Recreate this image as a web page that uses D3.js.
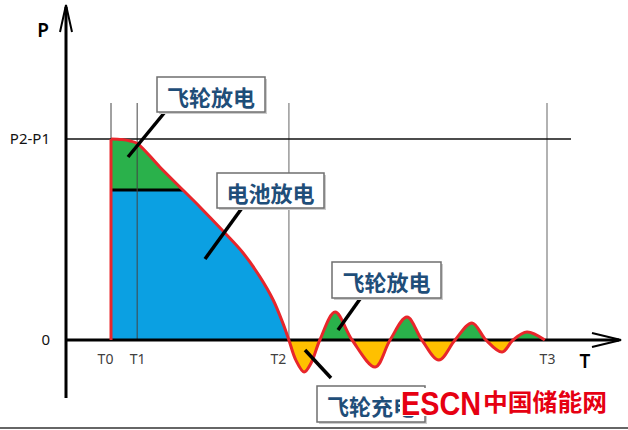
<!DOCTYPE html>
<html lang="zh">
<head>
<meta charset="UTF-8">
<title>飞轮与电池放电</title>
<script src="https://d3js.org/d3.v7.min.js"></script>
<style>
  body { margin: 0; background: #fff; }
  svg { display: block; }
</style>
</head>
<body>
<script>
// marks on the T axis
var tickTimes = [0, 0.6, 4.08, 10];
var tickNames = ["T0", "T1", "T2", "T3"];
// marks on the P axis
var powerLevels = [0, 1];
var powerNames = ["0", "P2-P1"];
// battery output level (black bar) and where it meets the curve
var batteryLevel = 0.746;
var batteryEnd = 1.65;
// the red power curve: time, power
var curveT = [0, 0.25, 0.44, 0.6, 1.12, 1.65, 2.04, 2.57, 3.03, 3.42, 3.72, 3.94, 4.08,
              4.24, 4.43, 4.59, 4.79, 5.14, 5.53, 6.06, 6.4, 6.79, 7.13,
              7.52, 7.89, 8.28, 8.6, 8.97, 9.22, 9.54, 9.95];
var curveP = [1, 0.997, 0.99, 0.978, 0.861, 0.746, 0.662, 0.542, 0.433, 0.313, 0.199, 0.085, 0,
              -0.1, -0.159, -0.114, 0, 0.139, 0, -0.134, 0, 0.114, 0,
              -0.1, 0, 0.085, 0, -0.06, 0, 0.04, 0];
// callout texts
var calloutText = ["飞轮放电", "电池放电", "飞轮放电", "飞轮充电"];

var w = 628, h = 430;
var ox = 66;            // y axis position
var axisTop = 5, axisBottom = 398, arrowX = 621;
var guideTop = 103;

var xScale = d3.scaleLinear().domain([0, 10]).range([111, 547]);
var yScale = d3.scaleLinear().domain([0, 1]).range([340, 139]);

var points = curveT.map(function (t, i) { return [t, curveP[i]]; });

var svg = d3.select("body").append("svg")
    .attr("width", w)
    .attr("height", h);

var defs = svg.append("defs");
defs.append("clipPath").attr("id", "clipUp").append("rect")
    .attr("x", 0).attr("y", 0).attr("width", w).attr("height", yScale(0));
defs.append("clipPath").attr("id", "clipDown").append("rect")
    .attr("x", 0).attr("y", yScale(0)).attr("width", w).attr("height", h);
defs.append("clipPath").attr("id", "clipBlue").append("rect")
    .attr("x", xScale(0) - 2)
    .attr("y", yScale(batteryLevel))
    .attr("width", xScale(tickTimes[2]) - xScale(0) + 2)
    .attr("height", yScale(0) - yScale(batteryLevel));

var smooth = d3.curveCatmullRom.alpha(0.5);

var area = d3.area()
    .x(function (d) { return xScale(d[0]); })
    .y0(yScale(0))
    .y1(function (d) { return yScale(d[1]); })
    .curve(smooth);

var line = d3.line()
    .x(function (d) { return xScale(d[0]); })
    .y(function (d) { return yScale(d[1]); })
    .curve(smooth);

//fills: green above zero, blue battery part, yellow below zero
svg.append("path").datum(points).attr("d", area)
    .attr("fill", "#2AB14B").attr("clip-path", "url(#clipUp)");
svg.append("path").datum(points).attr("d", area)
    .attr("fill", "#0BA0E2").attr("clip-path", "url(#clipBlue)");
svg.append("path").datum(points).attr("d", area)
    .attr("fill", "#FFC000").attr("clip-path", "url(#clipDown)");

//battery level bar
svg.append("line")
    .attr("x1", xScale(0)).attr("x2", xScale(batteryEnd))
    .attr("y1", yScale(batteryLevel)).attr("y2", yScale(batteryLevel))
    .attr("stroke", "#000").attr("stroke-width", 3);

//vertical guides at T0..T3
svg.selectAll(".guide")
    .data(tickTimes)
    .enter()
    .append("line")
    .attr("class", "guide")
    .attr("x1", function (d) { return xScale(d); })
    .attr("x2", function (d) { return xScale(d); })
    .attr("y1", guideTop)
    .attr("y2", yScale(0))
    .attr("stroke", function (d, i) { return i < 2 ? "#444" : "#999"; })
    .attr("stroke-width", function (d, i) { return i < 2 ? 1 : 1.5; });

//P2-P1 level line
svg.append("line")
    .attr("x1", ox).attr("x2", 571)
    .attr("y1", yScale(1)).attr("y2", yScale(1))
    .attr("stroke", "#111").attr("stroke-width", 1.5);

//axes
svg.append("line")
    .attr("x1", ox).attr("x2", arrowX - 2)
    .attr("y1", yScale(0)).attr("y2", yScale(0))
    .attr("stroke", "#000").attr("stroke-width", 3);
svg.append("line")
    .attr("x1", ox).attr("x2", ox)
    .attr("y1", axisTop + 2).attr("y2", axisBottom)
    .attr("stroke", "#000").attr("stroke-width", 3);
svg.append("path")
    .attr("d", "M" + (ox - 6) + "," + (axisTop + 27) + "L" + ox + "," + axisTop + "L" + (ox + 6) + "," + (axisTop + 27))
    .attr("fill", "none").attr("stroke", "#000").attr("stroke-width", 2);
svg.append("path")
    .attr("d", "M" + (arrowX - 29) + "," + (yScale(0) - 7) + "L" + arrowX + "," + yScale(0) + "L" + (arrowX - 29) + "," + (yScale(0) + 7))
    .attr("fill", "none").attr("stroke", "#000").attr("stroke-width", 2);

//red curve on top
svg.append("path").datum(points).attr("d", line)
    .attr("fill", "none").attr("stroke", "#E8262B").attr("stroke-width", 3)
    .attr("stroke-linejoin", "round");
svg.append("line")
    .attr("x1", xScale(0)).attr("x2", xScale(0))
    .attr("y1", yScale(0)).attr("y2", yScale(1))
    .attr("stroke", "#E8262B").attr("stroke-width", 3);

//tick labels using d3 axes without lines
var labelShift = [-6, 0, -11, 0];
var xAxis = d3.axisBottom(xScale)
    .tickValues(tickTimes)
    .tickSize(0)
    .tickPadding(14)
    .tickFormat(function (d, i) { return tickNames[i]; });
var gx = svg.append("g").attr("transform", "translate(0," + yScale(0) + ")").call(xAxis);
gx.select(".domain").remove();
gx.selectAll("text")
    .attr("dx", function (d, i) { return labelShift[i]; })
    .attr("font-family", "'Noto Sans', sans-serif")
    .attr("font-size", 14)
    .attr("fill", "#404040");

var yAxis = d3.axisLeft(yScale)
    .tickValues(powerLevels)
    .tickSize(0)
    .tickPadding(16)
    .tickFormat(function (d, i) { return powerNames[i]; });
var gy = svg.append("g").attr("transform", "translate(" + ox + ",0)").call(yAxis);
gy.select(".domain").remove();
gy.selectAll("text")
    .attr("font-family", "'Noto Sans', sans-serif")
    .attr("font-size", 15)
    .attr("fill", "#111");

//axis names
svg.append("text").text("P")
    .attr("x", 43).attr("y", 37)
    .attr("text-anchor", "middle")
    .attr("font-family", "'Noto Sans', sans-serif")
    .attr("font-weight", 600)
    .attr("font-size", 19).attr("fill", "#000");
svg.append("text").text("T")
    .attr("x", 585).attr("y", 368)
    .attr("text-anchor", "middle")
    .attr("font-family", "'Noto Sans', sans-serif")
    .attr("font-weight", 600)
    .attr("font-size", 19).attr("fill", "#000");

//callouts: box and leader line
var callouts = [
    { x: 157, y: 77, w: 108, h: 35, lx1: 165, ly1: 112, lx2: 128, ly2: 157 },
    { x: 217, y: 173, w: 107, h: 35, lx1: 242, ly1: 208, lx2: 205, ly2: 259 },
    { x: 332, y: 262, w: 109, h: 36, lx1: 360, ly1: 299, lx2: 338, ly2: 330 },
    { x: 317, y: 386, w: 108, h: 36, lx1: 331, ly1: 378, lx2: 305, ly2: 350 }
];

var cg = svg.selectAll(".callout")
    .data(callouts)
    .enter()
    .append("g")
    .attr("class", "callout");

cg.append("line")
    .attr("x1", function (d) { return d.lx1; })
    .attr("y1", function (d) { return d.ly1; })
    .attr("x2", function (d) { return d.lx2; })
    .attr("y2", function (d) { return d.ly2; })
    .attr("stroke", "#000").attr("stroke-width", 3.5);
cg.append("rect")
    .attr("x", function (d) { return d.x + 2; })
    .attr("y", function (d) { return d.y + 2; })
    .attr("width", function (d) { return d.w; })
    .attr("height", function (d) { return d.h; })
    .attr("fill", "#ccc");
cg.append("rect")
    .attr("x", function (d) { return d.x; })
    .attr("y", function (d) { return d.y; })
    .attr("width", function (d) { return d.w; })
    .attr("height", function (d) { return d.h; })
    .attr("fill", "#fff")
    .attr("stroke", "#6f6f6f").attr("stroke-width", 1.5);
cg.append("text")
    .text(function (d, i) { return calloutText[i]; })
    .attr("x", function (d) { return d.x + d.w / 2; })
    .attr("y", function (d) { return d.y + d.h / 2 + 1; })
    .attr("text-anchor", "middle")
    .attr("dominant-baseline", "central")
    .attr("font-family", "'Noto Sans CJK SC', sans-serif")
    .attr("font-weight", "bold")
    .attr("font-size", 22)
    .attr("fill", "#1F4E79");

//watermark
svg.append("rect")
    .attr("x", 400).attr("y", 388).attr("width", 82).attr("height", 28)
    .attr("fill", "#fff");
svg.append("text").text("ESCN")
    .attr("x", 401).attr("y", 415)
    .attr("textLength", 80).attr("lengthAdjust", "spacingAndGlyphs")
    .attr("font-family", "'Liberation Sans', Arial, sans-serif")
    .attr("font-weight", "bold")
    .attr("font-size", 34)
    .attr("fill", "#E60012");
svg.append("text").text("中国储能网")
    .attr("x", 483).attr("y", 411)
    .attr("textLength", 124).attr("lengthAdjust", "spacingAndGlyphs")
    .attr("font-family", "'Noto Sans CJK SC', sans-serif")
    .attr("font-weight", "bold")
    .attr("font-size", 24)
    .attr("fill", "#E60012");

//bottom border
svg.append("line")
    .attr("x1", 0).attr("x2", w)
    .attr("y1", 428).attr("y2", 428)
    .attr("stroke", "#333").attr("stroke-width", 1.5);
</script>
</body>
</html>
